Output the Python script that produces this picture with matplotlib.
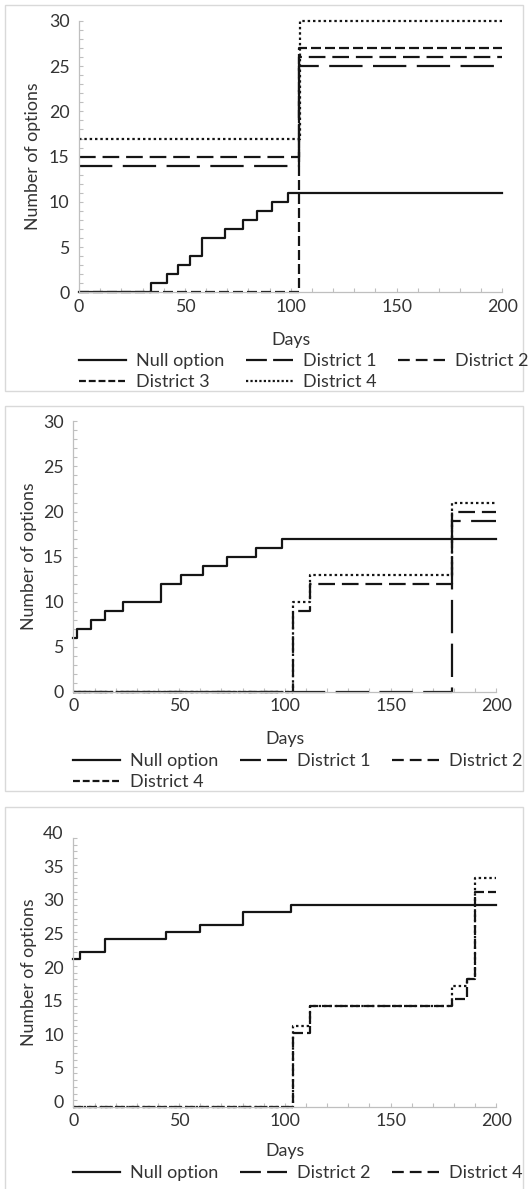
import matplotlib
matplotlib.use('Agg')
import matplotlib.pyplot as plt
import matplotlib.transforms as mtransforms
from matplotlib.lines import Line2D
from matplotlib.patches import Rectangle
from matplotlib.ticker import MultipleLocator

plt.rcParams['font.family'] = ['Lato', 'DejaVu Sans']

W, H = 528, 1189
INK = '#151515'
TXT = '#333333'
AXC = '#bfbfbf'
END_DAY = 200

# ---- panel 1 : day on which each series changes, and its new level
null1_days = [0, 34, 41.5, 46.5, 52.5, 58, 69, 77.5, 84, 91, 98.5]
null1_vals = [0, 1, 2, 3, 4, 6, 7, 8, 9, 10, 11]
d1_p1_days = [0, 104]
d1_p1_vals = [14, 25]
d2_p1_days = [0, 104]
d2_p1_vals = [15, 26]
d3_p1_days = [0, 104]
d3_p1_vals = [0, 27]
d4_p1_days = [0, 104.5]
d4_p1_vals = [17, 30]

# ---- panel 2
null2_days = [0, 1.5, 8.5, 15, 23.5, 41.5, 51, 61.5, 72.5, 86.5, 98.5]
null2_vals = [6, 7, 8, 9, 10, 12, 13, 14, 15, 16, 17]
d1_p2_days = [0, 179]
d1_p2_vals = [0, 19]
d2_p2_days = [0, 104, 112, 179]
d2_p2_vals = [0, 9, 12, 20]
d4_p2_days = [0, 104, 112, 179]
d4_p2_vals = [0, 10, 13, 21]

# ---- panel 3
null3_days = [0, 3, 15, 44, 60, 80, 103]
null3_vals = [22, 23, 25, 26, 27, 29, 30]
d2_p3_days = [0, 104, 112, 179, 186, 190]
d2_p3_vals = [0, 11, 15, 16, 19, 32]
d4_p3_days = [0, 104, 112, 179, 186, 190]
d4_p3_vals = [0, 12, 15, 18, 19, 34]

x_ticks = [0, 50, 100, 150, 200]

# dash patterns (in linewidths) used in the plot and in the legend keys
PLOT_DASH = {'solid': None, 'long': (15, 4.7), 'mid': (7.5, 3.1), 'short': (4.5, 1.8), 'dot': (1.1, 1.3)}
LEG_DASH = {'solid': None, 'long': (9.4, 2.8), 'mid': (5.3, 2.7), 'short': (3.1, 1.3), 'dot': (1, 1)}
LW = 1.6
NCOL = 3

panels = [
    dict(box=(5, 5, 523, 391), ax=(79.1, 502.4, 20.9, 292.3), ymax=30, label_shift=0,
         ylab_x=-0.091, xlab_y=-0.145, leg=(79, 353),
         series=[('Null option', null1_days, null1_vals, 'solid', 'solid'),
                 ('District 1', d1_p1_days, d1_p1_vals, 'long', 'long'),
                 ('District 2', d2_p1_days, d2_p1_vals, 'mid', 'mid'),
                 ('District 3', d3_p1_days, d3_p1_vals, 'short', 'short'),
                 ('District 4', d4_p1_days, d4_p1_vals, 'dot', 'dot')]),
    dict(box=(5, 405.8, 523, 791), ax=(73.4, 496.3, 421.3, 692), ymax=30, label_shift=0,
         ylab_x=-0.086, xlab_y=-0.145, leg=(73, 753),
         series=[('Null option', null2_days, null2_vals, 'solid', 'solid'),
                 ('District 1', d1_p2_days, d1_p2_vals, 'long', 'long'),
                 ('District 2', d2_p2_days, d2_p2_vals, 'mid', 'mid'),
                 ('District 4', d4_p2_days, d4_p2_vals, 'dot', 'short')]),
    dict(box=(5, 806.8, 523, 1200), ax=(73.4, 496.3, 838, 1107), ymax=40, label_shift=5.5,
         ylab_x=-0.086, xlab_y=-0.135, leg=(73, 1165),
         series=[('Null option', null3_days, null3_vals, 'solid', 'solid'),
                 ('District 2', d2_p3_days, d2_p3_vals, 'short', 'long'),
                 ('District 4', d4_p3_days, d4_p3_vals, 'dot', 'mid')]),
]


def row_major(items, ncol):
    # matplotlib fills legend columns first; reorder so entries read across rows
    out = []
    for c in range(ncol):
        out.extend(items[c::ncol])
    return out


fig = plt.figure(figsize=(W / 100, H / 100), dpi=100)

for p in panels:
    bx0, by0, bx1, by1 = p['box']
    fig.patches.append(Rectangle((bx0 / W, 1 - by1 / H), (bx1 - bx0) / W, (by1 - by0) / H,
                                 transform=fig.transFigure, fill=False,
                                 edgecolor='#d9d9d9', lw=1))

    left, right, top, bottom = p['ax']
    ax = fig.add_axes([left / W, 1 - bottom / H, (right - left) / W, (bottom - top) / H])

    handles = []
    for name, days, vals, pstyle, lstyle in p['series']:
        line, = ax.step(list(days) + [END_DAY], list(vals) + [vals[-1]], where='post',
                        color=INK, lw=LW, clip_on=False)
        if PLOT_DASH[pstyle] is not None:
            line.set_dashes(PLOT_DASH[pstyle])
        h = Line2D([], [], color=INK, lw=LW)
        if LEG_DASH[lstyle] is not None:
            h.set_dashes(LEG_DASH[lstyle])
        handles.append((h, name))

    ax.set_xlim(0, END_DAY)
    ax.set_ylim(0, p['ymax'])
    ax.set_xticks(x_ticks)
    ax.set_yticks(range(0, p['ymax'] + 1, 5))
    ax.xaxis.set_minor_locator(MultipleLocator(10))
    ax.yaxis.set_minor_locator(MultipleLocator(1))
    for s in ['top', 'right']:
        ax.spines[s].set_visible(False)
    for s in ['left', 'bottom']:
        ax.spines[s].set_color(AXC)
        ax.spines[s].set_linewidth(0.9)
    ax.tick_params(which='both', direction='in', length=3, color=AXC, width=0.8,
                   labelcolor=TXT, labelsize=12.8)
    ax.tick_params(axis='x', pad=4.5)
    ax.tick_params(axis='y', pad=7)

    if p['label_shift']:
        off = mtransforms.ScaledTranslation(0, p['label_shift'] / 100, fig.dpi_scale_trans)
        for lbl in ax.get_yticklabels():
            lbl.set_transform(lbl.get_transform() + off)

    ax.set_xlabel('Days', fontsize=12.8, color=TXT)
    ax.xaxis.set_label_coords(0.5, p['xlab_y'])
    ax.set_ylabel('Number of options', fontsize=12.8, color=TXT)
    ax.yaxis.set_label_coords(p['ylab_x'], 0.5)

    handles = row_major(handles, NCOL)
    lx, ly = p['leg']
    fig.legend([h for h, _ in handles], [n for _, n in handles],
               loc='upper left', bbox_to_anchor=(lx / W, 1 - ly / H),
               ncol=NCOL, frameon=False, borderpad=0, fontsize=13,
               handlelength=2.6, handletextpad=0.55, columnspacing=1.2,
               labelspacing=0.3, labelcolor=TXT, borderaxespad=0)

fig.savefig('out.png', dpi=100)
